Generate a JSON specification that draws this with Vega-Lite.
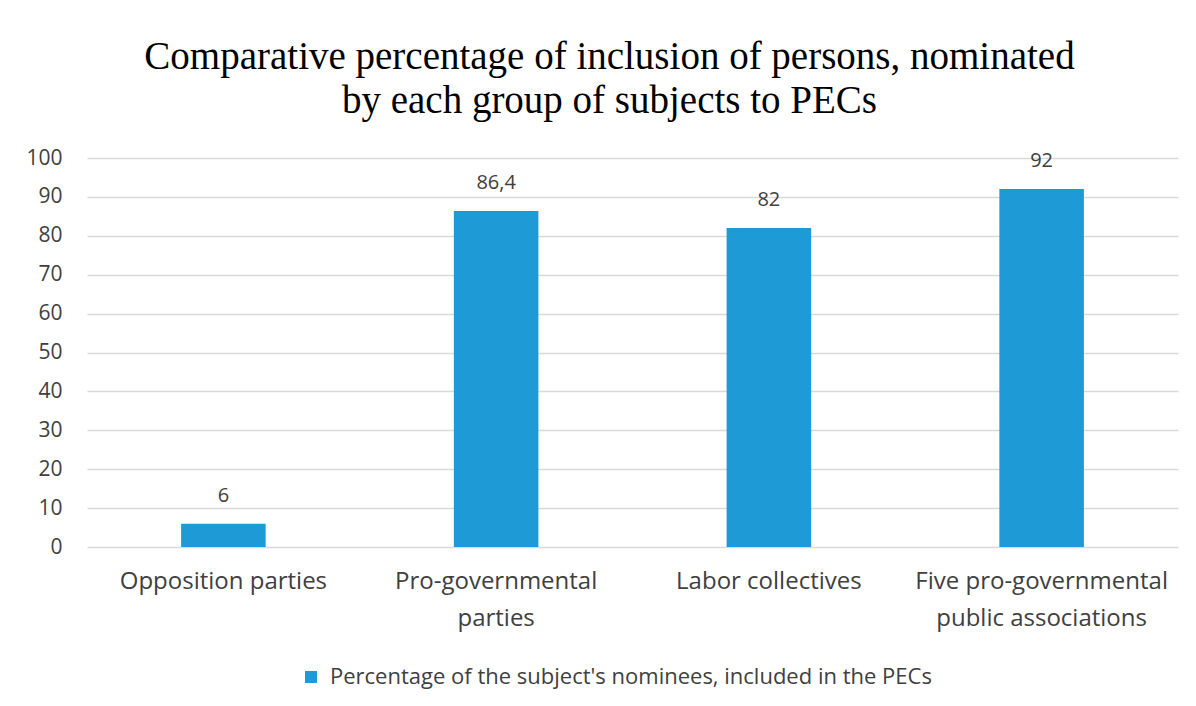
{
  "$schema": "https://vega.github.io/schema/vega-lite/v6.json",
  "width": 1091,
  "height": 389,
  "autosize": {"type": "none"},
  "padding": {"left": 87, "top": 158, "right": 18, "bottom": 159},
  "background": "white",
  "title": {
    "text": ["Comparative percentage of inclusion of persons, nominated", "by each group of subjects to PECs"],
    "font": "Liberation Serif",
    "fontSize": 39,
    "fontWeight": "normal",
    "color": "#000000",
    "lineHeight": 44,
    "anchor": "middle",
    "dx": -23,
    "offset": 26
  },
  "data": {
    "values": [
      {"group": "Opposition parties", "value": 6, "label": "6", "series": "Percentage of the subject's nominees, included in the PECs"},
      {"group": "Pro-governmental|parties", "value": 86.4, "label": "86,4", "series": "Percentage of the subject's nominees, included in the PECs"},
      {"group": "Labor collectives", "value": 82, "label": "82", "series": "Percentage of the subject's nominees, included in the PECs"},
      {"group": "Five pro-governmental|public associations", "value": 92, "label": "92", "series": "Percentage of the subject's nominees, included in the PECs"}
    ]
  },
  "encoding": {
    "x": {
      "field": "group",
      "type": "nominal",
      "sort": null,
      "scale": {"paddingInner": 0.69, "paddingOuter": 0.345},
      "axis": {
        "title": null,
        "labelAngle": 0,
        "labelExpr": "split(datum.label, '|')",
        "labelFont": "Open Sans",
        "labelFontSize": 24,
        "labelColor": "#404040",
        "labelLineHeight": 37,
        "labelPadding": 22,
        "labelLimit": 500,
        "domain": false,
        "ticks": false,
        "grid": false
      }
    },
    "y": {
      "field": "value",
      "type": "quantitative",
      "scale": {"domain": [0, 100]},
      "axis": {
        "title": null,
        "values": [0, 10, 20, 30, 40, 50, 60, 70, 80, 90, 100],
        "labelFont": "Open Sans",
        "labelFontSize": 21,
        "labelColor": "#404040",
        "labelPadding": 25,
        "domain": false,
        "ticks": false,
        "gridColor": "#d9d9d9",
        "gridWidth": 1.5
      }
    }
  },
  "layer": [
    {
      "mark": {"type": "bar"},
      "encoding": {
        "color": {
          "field": "series",
          "type": "nominal",
          "scale": {"range": ["#1e9bd7"]},
          "legend": {
            "title": null,
            "orient": "none",
            "legendX": 213,
            "legendY": 508,
            "padding": 0,
            "symbolType": "square",
            "symbolSize": 144,
            "symbolStrokeWidth": 0,
            "symbolOffset": 0,
            "labelOffset": 8,
            "labelFont": "Open Sans",
            "labelFontSize": 22,
            "labelColor": "#404040",
            "labelLimit": 1000
          }
        }
      }
    },
    {
      "mark": {"type": "text", "baseline": "alphabetic", "dy": -22, "font": "Open Sans", "fontSize": 20, "color": "#404040"},
      "encoding": {"text": {"field": "label"}}
    }
  ],
  "config": {"view": {"stroke": null}}
}
